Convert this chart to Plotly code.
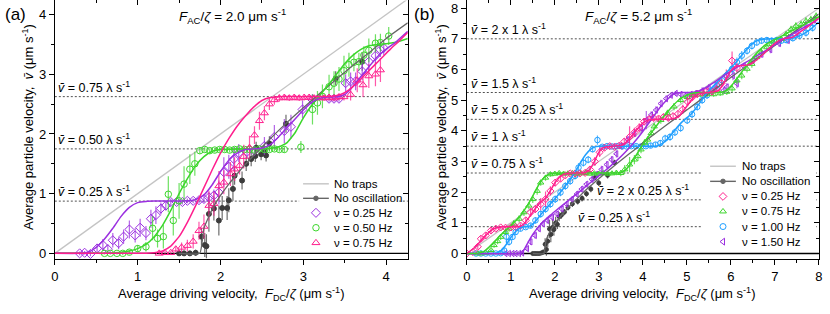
import plotly.graph_objects as go

# ====================== DATA : panel (a)  F_AC/zeta = 2.0 ======================
A_NOTRAP_X = [0, 4.26]
A_NOTRAP_Y = [0, 4.26]

A_NOOSC_FX = [1.5, 1.75, 1.8, 1.9, 2.0, 2.1, 2.2, 2.3, 2.4, 2.6, 2.8, 3.0, 3.2, 3.4, 3.6, 3.8, 4.0, 4.26]
A_NOOSC_FY = [0, 0, 0.42, 0.74, 0.97, 1.16, 1.33, 1.49, 1.64, 1.92, 2.19, 2.44, 2.68, 2.92, 3.15, 3.37, 3.6, 3.86]
A_NOOSC_X = [1.50, 1.56, 1.63, 1.70, 1.77, 1.81, 1.83, 1.86, 1.92, 1.98, 2.02, 2.08, 2.10, 2.15, 2.17, 2.26, 2.31, 2.37, 2.42, 2.43, 2.49, 2.53, 2.55, 2.59, 2.79, 3.39, 3.71]
A_NOOSC_Y = [0.00, 0.00, 0.00, 0.01, 0.28, 0.14, 0.12, 0.66, 0.75, 0.55, 0.76, 0.76, 0.89, 1.08, 1.30, 1.22, 1.50, 1.58, 1.63, 1.77, 1.66, 1.72, 1.64, 1.84, 2.17, 2.93, 3.21]
A_NOOSC_E = [0.03, 0.04, 0.04, 0.05, 0.15, 0.2, 0.2, 0.3, 0.2, 0.25, 0.2, 0.2, 0.2, 0.2, 0.15, 0.15, 0.12, 0.12, 0.1, 0.1, 0.1, 0.1, 0.1, 0.12, 0.15, 0.12, 0.15]

A_P25_X = [0.30, 0.36, 0.43, 0.51, 0.58, 0.64, 0.70, 0.77, 0.83, 0.90, 0.97,
           1.03, 1.10, 1.16, 1.22, 1.28, 1.34, 1.40, 1.47, 1.54, 1.60, 1.67,
           1.74, 1.80, 1.86, 1.92, 1.98, 2.04, 2.10, 2.16, 2.22,
           2.32, 2.41, 2.53, 2.65, 2.77, 2.85, 2.99, 3.11,
           3.31, 3.37, 3.43, 3.51, 3.57, 3.63, 3.71, 3.79, 3.87, 3.93, 3.97]
A_P25_Y = [0.00, 0.01, -0.01, 0.08, 0.14, 0.07, 0.22, 0.17, 0.28, 0.40, 0.30,
           0.43, 0.34, 0.58, 0.64, 0.75, 0.80, 0.86, 0.86, 0.86, 0.88, 0.88,
           0.89, 0.91, 0.94, 0.97, 1.02, 1.36, 1.45, 1.58, 1.68,
           1.70, 1.72, 1.80, 1.95, 2.05, 2.12, 2.41, 2.57,
           2.59, 2.59, 2.59, 2.85, 2.88, 2.88, 3.05, 3.21, 3.31, 3.41, 3.44]
A_P25_E = [0.03, 0.03, 0.04, 0.08, 0.1, 0.08, 0.12, 0.1, 0.12, 0.15, 0.12,
           0.15, 0.12, 0.15, 0.15, 0.1, 0.08, 0.05, 0.04, 0.04, 0.04, 0.04,
           0.05, 0.06, 0.08, 0.1, 0.2, 0.25, 0.2, 0.2, 0.15,
           0.1, 0.08, 0.15, 0.2, 0.2, 0.2, 0.15, 0.1,
           0.05, 0.05, 0.05, 0.15, 0.15, 0.15, 0.15, 0.15, 0.15, 0.12, 0.12]
A_P25_FX = [0, 0.3, 0.4, 0.5, 0.6, 0.7, 0.8, 0.9, 1.0, 1.1, 1.2, 1.4, 1.6, 1.7, 1.8, 1.9, 2.0, 2.1, 2.2, 2.3,
            2.4, 2.5, 2.6, 2.7, 2.8, 2.9, 3.0, 3.1, 3.2, 3.3, 3.4, 3.5, 3.6, 3.7, 3.8, 3.9, 4.0, 4.1, 4.26]
A_P25_FY = [0, 0, 0.02, 0.1, 0.24, 0.42, 0.62, 0.77, 0.85, 0.87, 0.875, 0.875, 0.88, 0.9, 0.98, 1.15, 1.37, 1.56, 1.68, 1.74,
            1.75, 1.76, 1.82, 1.95, 2.1, 2.25, 2.4, 2.53, 2.6, 2.62, 2.625, 2.66, 2.8, 2.97, 3.14, 3.3, 3.42, 3.52, 3.72]

A_G50_X = [0.60, 0.67, 0.75, 0.82, 0.90, 1.00, 1.10, 1.18, 1.24, 1.31, 1.37,
           1.43, 1.50, 1.56, 1.63, 1.69, 1.75, 1.81, 1.87, 1.93, 1.99,
           2.05, 2.11, 2.17, 2.23, 2.29, 2.35, 2.41, 2.47, 2.53, 2.59,
           2.65, 2.71, 2.77, 2.97,
           3.11, 3.17, 3.23, 3.31, 3.37, 3.43, 3.49, 3.55, 3.61, 3.67,
           3.73, 3.79, 3.87, 3.93, 4.03]
A_G50_Y = [0.00, 0.00, 0.00, 0.00, 0.02, 0.08, 0.11, 0.42, 0.25, 0.28, 0.99,
           0.55, 0.88, 1.16, 1.41, 1.50, 1.72, 1.74, 1.72, 1.73, 1.74,
           1.74, 1.73, 1.74, 1.75, 1.74, 1.74, 1.73, 1.75, 1.74, 1.74,
           1.75, 1.74, 1.74, 1.78,
           2.41, 2.52, 2.63, 2.79, 2.85, 2.92, 3.06, 3.16, 3.20, 3.21,
           3.32, 3.40, 3.52, 3.53, 3.64]
A_G50_E = [0.02, 0.02, 0.02, 0.03, 0.04, 0.06, 0.08, 0.2, 0.15, 0.2,
           0.3, 0.25, 0.3, 0.3, 0.25, 0.2, 0.05, 0.04, 0.04, 0.04,
           0.04, 0.04, 0.04, 0.04, 0.04, 0.04, 0.04, 0.04, 0.04, 0.04,
           0.04, 0.04, 0.04, 0.05, 0.1, 0.25, 0.2, 0.2, 0.2, 0.2,
           0.2, 0.25, 0.2, 0.15, 0.15, 0.15, 0.2, 0.15, 0.15, 0.15]
A_G50_FX = [0, 0.5, 0.6, 0.7, 0.8, 0.9, 1.0, 1.1, 1.2, 1.3, 1.4, 1.5, 1.6, 1.7, 1.8, 1.9, 2.0, 2.2, 2.4, 2.6,
            2.7, 2.8, 2.9, 3.0, 3.1, 3.2, 3.3, 3.4, 3.5, 3.6, 3.7, 3.8, 3.9, 4.0, 4.1, 4.26]
A_G50_FY = [0, 0, 0, 0.01, 0.02, 0.04, 0.08, 0.15, 0.28, 0.47, 0.72, 1.0, 1.25, 1.47, 1.62, 1.71, 1.74, 1.75, 1.75, 1.76,
            1.78, 1.85, 2.02, 2.27, 2.48, 2.65, 2.82, 3.0, 3.18, 3.32, 3.42, 3.48, 3.5, 3.51, 3.53, 3.6]

A_P75_X = [1.26, 1.33, 1.40, 1.46, 1.53, 1.60, 1.67, 1.74, 1.80, 1.86,
           1.92, 1.98, 2.04, 2.12, 2.17, 2.23, 2.28, 2.35, 2.41, 2.47,
           2.53, 2.59, 2.65, 2.71, 2.77, 2.83, 2.89, 2.95, 3.01, 3.07,
           3.13, 3.19, 3.25, 3.31, 3.37, 3.43, 3.49, 3.57, 3.65, 3.72,
           3.79, 3.87, 3.93]
A_P75_Y = [0.00, 0.01, 0.01, 0.07, 0.10, 0.13, 0.20, 0.38, 0.45, 0.80,
           0.83, 1.13, 1.19, 1.33, 1.41, 1.47, 1.62, 1.77, 1.98, 2.22,
           2.35, 2.50, 2.57, 2.60, 2.61, 2.60, 2.61, 2.60, 2.61, 2.61,
           2.60, 2.61, 2.60, 2.61, 2.60, 2.62, 2.62, 2.66, 2.90, 2.82,
           2.97, 3.00, 3.07]
A_P75_E = [0.02, 0.03, 0.03, 0.05, 0.08, 0.1, 0.12, 0.15, 0.2, 0.25,
           0.2, 0.25, 0.2, 0.2, 0.2, 0.15, 0.2, 0.2, 0.15, 0.15,
           0.12, 0.1, 0.08, 0.06, 0.05, 0.05, 0.05, 0.05, 0.05, 0.05,
           0.05, 0.05, 0.05, 0.05, 0.05, 0.05, 0.06, 0.1, 0.2, 0.2,
           0.2, 0.2, 0.2]
A_P75_FX = [0, 1.1, 1.2, 1.3, 1.4, 1.5, 1.6, 1.7, 1.8, 1.9, 2.0, 2.1, 2.2, 2.3, 2.4, 2.5, 2.6, 2.7, 3.0, 3.35,
            3.45, 3.55, 3.65, 3.75, 3.85, 3.95, 4.05, 4.15, 4.26]
A_P75_FY = [0, 0, 0.01, 0.04, 0.12, 0.28, 0.52, 0.8, 1.1, 1.4, 1.68, 1.92, 2.13, 2.3, 2.45, 2.56, 2.61, 2.625, 2.625, 2.63,
            2.66, 2.74, 2.86, 3.0, 3.14, 3.28, 3.42, 3.55, 3.7]

A_LEVELS = [0.875, 1.75, 2.625]
A_LEVEL_TEXT = ["0.25 λ", "0.50 λ", "0.75 λ"]
A_LABEL_X = [0.02, 0.02, 0.02]

# ====================== DATA : panel (b)  F_AC/zeta = 5.2 ======================
B_NOTRAP_X = [0, 8]
B_NOTRAP_Y = [0, 8]

B_NOOSC_FX = [1.5, 1.75, 1.8, 1.9, 2.0, 2.2, 2.4, 2.6, 2.8, 3.0, 3.2, 3.4, 3.6, 3.8, 4.0, 4.5, 5.0, 5.5, 6.0, 6.5, 7.0, 7.5, 8.0]
B_NOOSC_FY = [0, 0, 0.42, 0.74, 0.97, 1.33, 1.64, 1.92, 2.19, 2.44, 2.68, 2.92, 3.15, 3.37, 3.6, 4.15, 4.68, 5.21, 5.74, 6.26, 6.78, 7.29, 7.81]
B_NOOSC_X = [1.50, 1.55, 1.60, 1.65, 1.70, 1.74, 1.78, 1.81, 1.84, 1.88,
             1.91, 1.95, 1.98, 2.02, 2.06, 2.10, 2.15, 2.22, 2.30, 2.40,
             2.52, 2.62, 2.72, 2.82, 2.91, 3.00, 3.20, 3.36]
B_NOOSC_Y = [0.00, 0.00, 0.00, 0.00, 0.02, 0.05, 0.30, 0.13, 0.40, 0.80,
             0.62, 0.85, 0.78, 1.00, 0.95, 1.20, 1.25, 1.35, 1.50, 1.62,
             1.70, 1.80, 1.95, 2.10, 2.47, 2.30, 2.55, 2.96]
B_NOOSC_E = [0.02, 0.02, 0.02, 0.02, 0.04, 0.06, 0.20, 0.20, 0.20, 0.30,
             0.25, 0.25, 0.20, 0.20, 0.15, 0.15, 0.12, 0.10, 0.10, 0.10,
             0.10, 0.10, 0.10, 0.10, 0.10, 0.10, 0.10, 0.10]

B_P25_X = [0.00, 0.14, 0.25, 0.32, 0.43, 0.55, 0.66, 0.77, 0.88, 1.00,
           1.11, 1.22, 1.34, 1.45, 1.56, 1.68, 1.79, 1.90, 2.01, 2.13,
           2.24, 2.35, 2.46, 2.57, 2.69, 2.80, 2.91, 3.02, 3.13, 3.25,
           3.36, 3.47, 3.58, 3.70, 3.81, 3.92, 4.03, 4.14, 4.25, 4.36,
           4.47, 4.58, 4.69, 4.80, 4.91, 5.02, 5.13, 5.24, 5.35, 5.46,
           5.57, 5.68, 5.79, 5.90, 6.03, 6.14]
B_P25_Y = [0.00, 0.05, 0.22, 0.48, 0.59, 0.75, 0.81, 0.85, 0.84, 0.85,
           0.86, 0.91, 1.08, 1.34, 1.45, 1.61, 1.77, 2.04, 2.31, 2.44,
           2.55, 2.61, 2.61, 2.61, 2.63, 2.74, 3.00, 3.30, 3.45, 3.50,
           3.48, 3.52, 3.65, 3.80, 3.95, 4.10, 4.30, 4.38, 4.42, 4.40,
           4.45, 4.42, 4.48, 4.55, 4.70, 4.95, 5.10, 5.20, 5.25, 5.30,
           5.28, 5.35, 5.55, 5.80, 6.29, 6.05]
B_P25_E = [0.02, 0.05, 0.08, 0.10, 0.10, 0.08, 0.06, 0.05, 0.05, 0.05,
           0.06, 0.08, 0.10, 0.15, 0.12, 0.20, 0.25, 0.15, 0.12, 0.10,
           0.08, 0.06, 0.06, 0.06, 0.08, 0.10, 0.15, 0.15, 0.10, 0.08,
           0.08, 0.10, 0.12, 0.35, 0.15, 0.15, 0.12, 0.10, 0.10, 0.08,
           0.10, 0.10, 0.10, 0.12, 0.15, 0.15, 0.12, 0.12, 0.10, 0.10,
           0.10, 0.12, 0.15, 0.20, 0.30, 0.15]
B_P25_FX = [0, 0.2, 0.4, 0.6, 0.8, 1.0, 1.2, 1.3, 1.4, 1.5, 1.6, 1.7, 1.8, 1.9, 2.0, 2.1, 2.2, 2.3, 2.5, 2.7,
            2.8, 2.9, 3.0, 3.1, 3.3, 3.5, 3.6, 3.7, 3.8, 3.9, 4.0, 4.1, 4.3, 4.6, 4.8, 4.9, 5.0, 5.1, 5.2, 5.3,
            5.5, 5.7, 5.8, 5.9, 6.0, 6.1, 6.2, 6.4, 6.5, 6.7, 6.9, 7.0, 7.1, 7.2, 7.4, 7.6, 7.8, 8.0]
B_P25_FY = [0, 0.22, 0.55, 0.8, 0.87, 0.875, 0.88, 0.97, 1.15, 1.35, 1.55, 1.7, 1.82, 2.05, 2.3, 2.48, 2.58, 2.62, 2.625, 2.64,
            2.75, 3.0, 3.3, 3.45, 3.5, 3.52, 3.6, 3.75, 3.92, 4.1, 4.25, 4.34, 4.375, 4.38, 4.45, 4.6, 4.8, 5.0, 5.15, 5.22,
            5.25, 5.3, 5.45, 5.7, 5.95, 6.08, 6.12, 6.15, 6.22, 6.45, 6.72, 6.85, 6.95, 7.0, 7.05, 7.25, 7.45, 7.68]

B_G75_X = [0.25, 0.32, 0.43, 0.55, 0.62, 0.70, 0.77, 0.88, 0.96, 1.07,
           1.19, 1.30, 1.41, 1.50, 1.60, 1.68, 1.79, 1.90, 2.00, 2.10,
           2.20, 2.30, 2.40, 2.50, 2.60, 2.70, 2.80, 2.90, 3.00, 3.10,
           3.20, 3.30, 3.40, 3.50, 3.59, 3.70, 3.81, 3.89, 3.96, 4.04,
           4.11, 4.19, 4.26, 4.41, 4.56, 4.71, 4.86, 5.01, 5.16, 5.31,
           5.46, 5.61, 5.76, 5.91, 6.03, 6.14, 6.25, 6.37, 6.48, 6.59,
           6.70, 6.82, 6.93, 7.04, 7.15, 7.26, 7.37, 7.48, 7.60, 7.71,
           7.82, 7.94]
B_G75_Y = [0.00, 0.00, 0.02, 0.11, 0.27, 0.40, 0.54, 0.70, 0.81, 0.97,
           1.13, 1.34, 1.56, 1.77, 2.04, 2.31, 2.47, 2.58, 2.60, 2.62,
           2.60, 2.61, 2.62, 2.60, 2.61, 2.62, 2.60, 2.61, 2.60, 2.62,
           2.60, 2.61, 2.63, 2.62, 2.74, 2.90, 3.06, 3.17, 3.39, 3.61,
           3.71, 3.92, 4.14, 4.35, 4.57, 4.79, 5.00, 5.10, 5.16, 5.18,
           5.19, 5.19, 5.22, 5.27, 5.38, 5.64, 5.80, 6.02, 6.18, 6.40,
           6.56, 6.72, 6.83, 6.94, 6.99, 7.15, 7.31, 7.42, 7.47, 7.58,
           7.63, 7.74]
B_G75_E = [0.02, 0.02, 0.04, 0.06, 0.08, 0.10, 0.10, 0.10, 0.10, 0.12,
           0.12, 0.12, 0.12, 0.12, 0.12, 0.10, 0.10, 0.08, 0.06, 0.05,
           0.05, 0.05, 0.05, 0.05, 0.05, 0.05, 0.05, 0.05, 0.06, 0.06,
           0.06, 0.06, 0.08, 0.10, 0.15, 0.25, 0.15, 0.15, 0.12, 0.12,
           0.12, 0.12, 0.12, 0.12, 0.12, 0.12, 0.10, 0.08, 0.08, 0.08,
           0.08, 0.08, 0.08, 0.10, 0.12, 0.12, 0.12, 0.12, 0.12, 0.12,
           0.12, 0.12, 0.10, 0.10, 0.10, 0.10, 0.12, 0.12, 0.12, 0.12,
           0.12, 0.12]
B_G75_FX = [0, 0.2, 0.3, 0.4, 0.5, 0.6, 0.7, 0.8, 0.9, 1.0, 1.1, 1.2, 1.3, 1.4, 1.5, 1.6, 1.7, 1.8, 1.9, 2.0,
            2.5, 3.0, 3.4, 3.5, 3.6, 3.7, 3.8, 3.9, 4.0, 4.2, 4.4, 4.6, 4.8, 5.0, 5.2, 5.5, 5.8, 5.9, 6.0, 6.1,
            6.2, 6.4, 6.6, 6.8, 7.0, 7.2, 7.4, 7.6, 7.8, 8.0]
B_G75_FY = [0, 0, 0.02, 0.08, 0.2, 0.35, 0.5, 0.64, 0.78, 0.9, 1.05, 1.2, 1.4, 1.62, 1.88, 2.15, 2.38, 2.53, 2.6, 2.62,
            2.625, 2.625, 2.625, 2.64, 2.72, 2.88, 3.1, 3.32, 3.55, 3.95, 4.33, 4.68, 4.98, 5.17, 5.24, 5.25, 5.26, 5.32, 5.45, 5.62,
            5.82, 6.2, 6.55, 6.82, 6.98, 7.12, 7.28, 7.42, 7.56, 7.72]

B_C100_X = [0.21, 0.32, 0.43, 0.55, 0.66, 0.77, 0.85, 0.90, 0.96, 1.04,
            1.11, 1.22, 1.34, 1.45, 1.56, 1.68, 1.79, 1.90, 2.01, 2.13,
            2.24, 2.35, 2.46, 2.54, 2.65, 2.76, 2.86, 2.97, 3.08, 3.19,
            3.30, 3.41, 3.52, 3.63, 3.74, 3.85, 3.96, 4.07, 4.18, 4.29,
            4.40, 4.51, 4.62, 4.73, 4.86, 5.01, 5.12, 5.24, 5.35, 5.46,
            5.57, 5.69, 5.80, 5.91, 6.03, 6.14, 6.25, 6.37, 6.48, 6.59,
            6.70, 6.82, 6.93, 7.04, 7.15, 7.26, 7.41, 7.56, 7.71, 7.86]
B_C100_Y = [0.00, 0.00, 0.00, 0.00, 0.00, 0.01, 0.10, 0.55, 0.38, 0.54,
            0.70, 0.81, 0.86, 0.91, 1.08, 1.29, 1.45, 1.61, 1.77, 1.99,
            2.20, 2.36, 2.53, 2.80, 2.96, 3.06, 3.40, 3.70, 3.48, 3.50,
            3.49, 3.50, 3.50, 3.49, 3.50, 3.50, 3.49, 3.50, 3.52, 3.55,
            3.60, 3.75, 3.80, 3.95, 4.09, 4.34, 4.54, 4.78, 5.00, 5.16,
            5.32, 5.48, 5.65, 5.81, 6.02, 6.24, 6.45, 6.61, 6.77, 6.88,
            6.94, 6.96, 6.94, 6.96, 6.94, 6.96, 7.02, 7.10, 7.20, 7.36]
B_C100_E = [0.02, 0.02, 0.02, 0.02, 0.03, 0.04, 0.08, 0.20, 0.12, 0.10,
            0.10, 0.08, 0.06, 0.08, 0.10, 0.12, 0.12, 0.12, 0.12, 0.12,
            0.12, 0.12, 0.12, 0.15, 0.12, 0.12, 0.10, 0.15, 0.06, 0.06,
            0.06, 0.06, 0.06, 0.06, 0.06, 0.06, 0.06, 0.06, 0.08, 0.08,
            0.10, 0.12, 0.12, 0.12, 0.12, 0.12, 0.12, 0.12, 0.12, 0.12,
            0.12, 0.12, 0.12, 0.15, 0.15, 0.15, 0.15, 0.12, 0.12, 0.10,
            0.10, 0.10, 0.10, 0.10, 0.10, 0.10, 0.10, 0.10, 0.12, 0.12]
B_C100_FX = [0, 0.6, 0.7, 0.8, 0.9, 1.0, 1.1, 1.2, 1.3, 1.4, 1.5, 1.6, 1.7, 1.8, 1.9, 2.0, 2.1, 2.2, 2.3, 2.4,
             2.5, 2.6, 2.7, 2.8, 2.9, 3.0, 3.5, 4.0, 4.3, 4.4, 4.5, 4.6, 4.7, 4.8, 4.9, 5.0, 5.1, 5.2, 5.3, 5.4,
             5.5, 5.6, 5.7, 5.8, 5.9, 6.0, 6.1, 6.2, 6.3, 6.4, 6.5, 6.6, 6.7, 7.0, 7.3, 7.4, 7.5, 7.6, 7.7, 7.8,
             7.9, 8.0]
B_C100_FY = [0, 0, 0.03, 0.12, 0.3, 0.52, 0.7, 0.82, 0.87, 0.88, 0.95, 1.12, 1.3, 1.46, 1.62, 1.78, 1.95, 2.13, 2.32, 2.52,
             2.75, 3.0, 3.22, 3.38, 3.47, 3.5, 3.5, 3.5, 3.5, 3.55, 3.65, 3.8, 3.97, 4.15, 4.3, 4.42, 4.55, 4.72, 4.92, 5.12,
             5.3, 5.45, 5.6, 5.75, 5.9, 6.05, 6.2, 6.38, 6.55, 6.72, 6.85, 6.94, 6.98, 7.0, 7.0, 7.02, 7.06, 7.12, 7.2, 7.3,
             7.42, 7.55]

B_P150_X = [0.88, 0.96, 1.04, 1.11, 1.19, 1.26, 1.37, 1.45, 1.55, 1.64,
            1.73, 1.83, 1.94, 2.05, 2.16, 2.27, 2.39, 2.50, 2.61, 2.72,
            2.84, 2.95, 3.06, 3.18, 3.29, 3.40, 3.52, 3.66, 3.81, 3.96,
            4.08, 4.19, 4.30, 4.41, 4.53, 4.64, 4.75, 4.86, 4.98, 5.09,
            5.20, 5.35, 5.50, 5.65, 5.84, 5.91, 6.05, 6.14, 6.30, 6.50,
            6.70, 6.90, 7.10, 7.30, 7.50, 7.70, 7.90]
B_P150_Y = [0.00, 0.00, 0.00, 0.00, 0.00, 0.02, 0.16, 0.38, 0.59, 0.81,
            0.97, 1.08, 1.18, 1.29, 1.45, 1.61, 1.77, 1.94, 2.10, 2.26,
            2.42, 2.58, 2.74, 2.90, 3.06, 3.25, 3.50, 3.71, 3.92, 4.09,
            4.35, 4.52, 4.68, 4.89, 5.05, 5.16, 5.22, 5.19, 5.16, 5.19,
            5.22, 5.30, 5.38, 5.45, 5.32, 5.43, 5.80, 5.54, 6.10, 6.30,
            6.50, 6.65, 6.85, 6.95, 7.20, 7.45, 7.62]
B_P150_E = [0.02, 0.02, 0.02, 0.02, 0.03, 0.04, 0.08, 0.10, 0.10, 0.10,
            0.10, 0.10, 0.10, 0.10, 0.10, 0.10, 0.10, 0.10, 0.10, 0.10,
            0.10, 0.10, 0.12, 0.12, 0.12, 0.12, 0.12, 0.12, 0.12, 0.12,
            0.30, 0.12, 0.12, 0.12, 0.10, 0.08, 0.08, 0.08, 0.08, 0.08,
            0.10, 0.12, 0.15, 0.15, 0.12, 0.12, 0.15, 0.15, 0.12, 0.12,
            0.12, 0.12, 0.12, 0.12, 0.12, 0.12, 0.12]
B_P150_FX = [0, 1.2, 1.25, 1.3, 1.4, 1.5, 1.6, 1.7, 1.8, 1.9, 2.0, 2.2, 2.4, 2.6, 2.8, 3.0, 3.2, 3.4, 3.6, 3.8,
             4.0, 4.2, 4.4, 4.6, 4.7, 4.8, 5.0, 5.2, 5.4, 5.6, 5.8, 6.0, 6.2, 6.4, 6.6, 6.8, 7.0, 7.2, 7.4, 7.6,
             7.8, 8.0]
B_P150_FY = [0, 0, 0.02, 0.12, 0.38, 0.62, 0.82, 0.98, 1.12, 1.25, 1.37, 1.6, 1.83, 2.06, 2.3, 2.53, 2.77, 3.02, 3.3, 3.62,
             3.98, 4.38, 4.78, 5.08, 5.2, 5.24, 5.25, 5.27, 5.38, 5.56, 5.76, 5.95, 6.12, 6.28, 6.45, 6.62, 6.8, 6.98, 7.15, 7.32,
             7.48, 7.65]

B_LEVELS = [0.875, 1.75, 2.625, 3.5, 4.375, 5.25, 7.0]
B_LEVEL_TEXT = ["0.25 λ", "2 x 0.25 λ", "0.75 λ", "1 λ", "5 x 0.25 λ", "1.5 λ", "2 x 1 λ"]
B_LABEL_X = [2.49, 2.92, 0.05, 0.05, 0.05, 0.05, 0.05]

A_LEGEND = ["No traps", "No oscillation", "ν = 0.25 Hz", "ν = 0.50 Hz", "ν = 0.75 Hz"]
B_LEGEND = ["No traps", "No oscillation", "ν = 0.25 Hz", "ν = 0.75 Hz", "ν = 1.00 Hz", "ν = 1.50 Hz"]

# ====================== STYLE ======================
W, H = 830, 314
FONT = "Liberation Sans, Arial, Helvetica, sans-serif"
PURPLE = "#9b30e0"
GREEN = "#3cd62c"
PINK = "#ff1f8e"
CYAN = "#1f9fff"
NOTRAP_C = "#c4c4c4"
NOOSC_LINE = "#666666"
NOOSC_MK = "#3c3c3c"
DASH_C = "#505050"


def fx(p):
    return p / W


def fy(p):
    return 1 - p / H


AX_DOM = [fx(51.3), fx(407.7)]
BX_DOM = [fx(467.3), fx(822.7)]
Y_DOM = [fy(261), fy(0.5)]
A_XR, A_YR = [0, 4.26], [-0.1, 4.235]
B_XR, B_YR = [0, 8.0005], [-0.19, 8.25]


def rgba(hexc, a):
    h = hexc.lstrip("#")
    return "rgba(%d,%d,%d,%.2f)" % (int(h[0:2], 16), int(h[2:4], 16), int(h[4:6], 16), a)


fig = go.Figure()


def line(x, y, color, xa, ya, width=1.5, spline=True):
    fig.add_trace(go.Scatter(
        x=x, y=y, mode="lines", xaxis=xa, yaxis=ya, showlegend=False, hoverinfo="skip",
        line=dict(color=color, width=width, shape="spline" if spline else "linear", smoothing=0.4)))


def pts(x, y, e, color, symbol, xa, ya, size=6.5):
    fig.add_trace(go.Scatter(
        x=x, y=y, mode="markers", xaxis=xa, yaxis=ya, showlegend=False, hoverinfo="skip",
        marker=dict(symbol=symbol, size=size, color=color,
                    line=dict(color=color, width=1)),
        error_y=dict(type="data", array=e, visible=True, color=rgba(color, 0.75),
                     thickness=1.2, width=0)))


# ---------- panel (a) ----------
line(A_NOTRAP_X, A_NOTRAP_Y, NOTRAP_C, "x", "y", 1.3, False)
pts(A_NOOSC_X, A_NOOSC_Y, A_NOOSC_E, NOOSC_MK, "circle", "x", "y", 5)
pts(A_P25_X, A_P25_Y, A_P25_E, PURPLE, "diamond-open", "x", "y", 7)
pts(A_G50_X, A_G50_Y, A_G50_E, GREEN, "circle-open", "x", "y", 6.5)
pts(A_P75_X, A_P75_Y, A_P75_E, PINK, "triangle-up-open", "x", "y", 7)
line(A_NOOSC_FX, A_NOOSC_FY, NOOSC_LINE, "x", "y", 1.3)
line(A_G50_FX, A_G50_FY, GREEN, "x", "y")
line(A_P25_FX, A_P25_FY, PURPLE, "x", "y")
line(A_P75_FX, A_P75_FY, PINK, "x", "y")

# ---------- panel (b) ----------
line(B_NOTRAP_X, B_NOTRAP_Y, NOTRAP_C, "x2", "y2", 1.3, False)
pts(B_NOOSC_X, B_NOOSC_Y, B_NOOSC_E, NOOSC_MK, "circle", "x2", "y2", 4)
pts(B_P150_X, B_P150_Y, B_P150_E, PURPLE, "triangle-left-open", "x2", "y2", 5.5)
pts(B_C100_X, B_C100_Y, B_C100_E, CYAN, "circle-open", "x2", "y2", 5.5)
pts(B_G75_X, B_G75_Y, B_G75_E, GREEN, "triangle-up-open", "x2", "y2", 5.5)
pts(B_P25_X, B_P25_Y, B_P25_E, PINK, "diamond-open", "x2", "y2", 5.5)
line(B_NOOSC_FX, B_NOOSC_FY, NOOSC_LINE, "x2", "y2", 1.3)
line(B_C100_FX, B_C100_FY, CYAN, "x2", "y2")
line(B_P150_FX, B_P150_FY, PURPLE, "x2", "y2")
line(B_G75_FX, B_G75_FY, GREEN, "x2", "y2")
line(B_P25_FX, B_P25_FY, PINK, "x2", "y2")

# dummy traces so the mirrored (top/right) axes are drawn
fig.add_trace(go.Scatter(x=[None], y=[None], xaxis="x3", yaxis="y3", showlegend=False, hoverinfo="skip"))
fig.add_trace(go.Scatter(x=[None], y=[None], xaxis="x4", yaxis="y4", showlegend=False, hoverinfo="skip"))

# ---------- shapes: reference lines ----------
shapes = []


def hline(dom, yref, yv, color, width, dash):
    shapes.append(dict(type="line", xref="paper", yref=yref, x0=dom[0], x1=dom[1], y0=yv, y1=yv,
                       layer="below", line=dict(color=color, width=width, dash=dash)))


for lv in A_LEVELS:
    hline(AX_DOM, "y", lv, DASH_C, 1, "2px,2px")
hline(AX_DOM, "y", 0, "black", 1.4, "solid")
for lv in B_LEVELS:
    hline(BX_DOM, "y2", lv, DASH_C, 1, "2px,2px")
hline(BX_DOM, "y2", 0, "black", 1.4, "solid")

# ---------- custom legends ----------
annotations = []


def legend_block(box, rows, x_line, x_mark, x_text, labels, marks):
    shapes.append(dict(type="rect", xref="paper", yref="paper", x0=fx(box[0]), x1=fx(box[2]),
                       y0=fy(box[3]), y1=fy(box[1]), layer="below", fillcolor="white",
                       line=dict(width=0)))
    for i, (lab, mk) in enumerate(zip(labels, marks)):
        yy = rows[i]
        kind, color, symbol, size = mk
        if kind in ("line", "linemk"):
            shapes.append(dict(type="line", xref="paper", yref="paper", x0=fx(x_line[0]), x1=fx(x_line[1]),
                               y0=fy(yy), y1=fy(yy), layer="below",
                               line=dict(color=color, width=1.4)))
        if kind in ("mk", "linemk"):
            fig.add_trace(go.Scatter(x=[x_mark], y=[yy], mode="markers", xaxis="x5", yaxis="y5",
                                     showlegend=False, hoverinfo="skip",
                                     marker=dict(symbol=symbol, size=size, color=color,
                                                 line=dict(color=color, width=1))))
        annotations.append(dict(text=lab, xref="paper", yref="paper", x=fx(x_text), y=fy(yy),
                                xanchor="left", yanchor="middle", showarrow=False,
                                font=dict(family=FONT, size=11.5, color="black")))


legend_block((298, 175, 399, 253), [185, 199.6, 214.2, 229.2, 244.4], (302, 328), 315, 331, A_LEGEND,
             [("line", NOTRAP_C, None, 0), ("linemk", NOOSC_LINE, "circle", 4.5),
              ("mk", PURPLE, "diamond-open", 7), ("mk", GREEN, "circle-open", 6.5),
              ("mk", PINK, "triangle-up-open", 7)])
legend_block((704, 158, 820, 252), [167.3, 182.5, 197.7, 212.8, 228.0, 243.2], (713, 739), 726, 743, B_LEGEND,
             [("line", NOTRAP_C, None, 0), ("linemk", NOOSC_LINE, "circle", 4.5),
              ("mk", PINK, "diamond-open", 6), ("mk", GREEN, "triangle-up-open", 6),
              ("mk", CYAN, "circle-open", 6), ("mk", PURPLE, "triangle-left-open", 6)])

# ---------- text annotations ----------
VBAR = "<i>v\u0304</i>"


def ann(text, x, y, size, xref="paper", yref="paper", xanchor="center", yanchor="middle", angle=0):
    annotations.append(dict(text=text, x=x, y=y, xref=xref, yref=yref, xanchor=xanchor, yanchor=yanchor,
                            showarrow=False, textangle=angle, font=dict(family=FONT, size=size, color="black")))


ann("(a)", fx(12), fy(15), 17)
ann("(b)", fx(425), fy(15), 17)
ann("<i>F</i><sub>AC</sub>/<i>ζ</i> = 2.0 μm s<sup>-1</sup>", fx(231), fy(16), 13.5)
ann("<i>F</i><sub>AC</sub>/<i>ζ</i> = 5.2 μm s<sup>-1</sup>", fx(641), fy(16), 13.5)
for lv, txt, lx in zip(A_LEVELS, A_LEVEL_TEXT, A_LABEL_X):
    ann(VBAR + " = " + txt + " s<sup>-1</sup>", lx, lv, 12.5, "x", "y", "left", "bottom")
for lv, txt, lx in zip(B_LEVELS, B_LEVEL_TEXT, B_LABEL_X):
    ann(VBAR + " = " + txt + " s<sup>-1</sup>", lx, lv, 12.5, "x2", "y2", "left", "bottom")

XT = "Average driving velocity,  <i>F</i><sub>DC</sub>/<i>ζ</i> (μm s<sup>-1</sup>)"
YT = "Average particle velocity,  " + VBAR + " (μm s<sup>-1</sup>)"
ann(XT, fx(230), fy(296), 13)
ann(XT, fx(645), fy(296), 13)
ann(YT, fx(24), fy(128), 13, angle=-90)
ann(YT, fx(441), fy(128), 13, angle=-90)


# ---------- axes ----------
def axis(rng, dtick, ticks, labels=True, **kw):
    d = dict(range=rng, showline=True, linecolor="black", linewidth=1, ticks=ticks, ticklen=5,
             tickwidth=1, tickcolor="black", tick0=0, dtick=dtick, showgrid=False, zeroline=False,
             showticklabels=labels, fixedrange=True, ticklabeloverflow="allow",
             minor=dict(dtick=dtick / 2, ticklen=3, tickwidth=1, tickcolor="black", ticks=ticks, showgrid=False),
             tickfont=dict(family=FONT, size=13, color="black"))
    d.update(kw)
    return d


fig.update_layout(
    width=W, height=H, margin=dict(l=0, r=0, t=0, b=0),
    paper_bgcolor="white", plot_bgcolor="rgba(0,0,0,0)", showlegend=False,
    font=dict(family=FONT, size=13, color="black"),
    xaxis=axis(A_XR, 1, "outside", domain=AX_DOM, anchor="y"),
    yaxis=axis(A_YR, 1, "outside", domain=Y_DOM, anchor="x"),
    xaxis2=axis(B_XR, 1, "outside", domain=BX_DOM, anchor="y2"),
    yaxis2=axis(B_YR, 1, "outside", domain=Y_DOM, anchor="x2"),
    xaxis3=axis(A_XR, 1, "inside", False, overlaying="x", anchor="y", side="top"),
    yaxis3=axis(A_YR, 1, "inside", False, overlaying="y", anchor="x", side="right"),
    xaxis4=axis(B_XR, 1, "inside", False, overlaying="x2", anchor="y2", side="top"),
    yaxis4=axis(B_YR, 1, "inside", False, overlaying="y2", anchor="x2", side="right"),
    xaxis5=dict(domain=[0, 1], anchor="y5", range=[0, W], visible=False, fixedrange=True),
    yaxis5=dict(domain=[0, 1], anchor="x5", range=[H, 0], visible=False, fixedrange=True),
    shapes=shapes, annotations=annotations,
)

fig.write_html("out.html", config={"displayModeBar": False},
               post_script="document.body.style.margin='0';")
